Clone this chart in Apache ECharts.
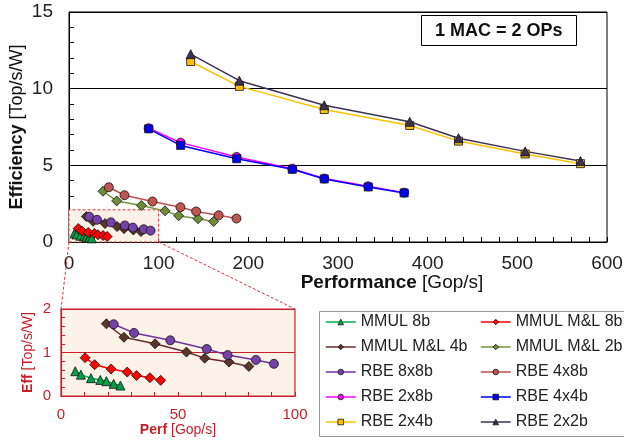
<!DOCTYPE html>
<html><head><meta charset="utf-8">
<script src="https://cdn.jsdelivr.net/npm/echarts@6/dist/echarts.min.js"></script>
<style>html,body{margin:0;padding:0;background:#fff}#c{width:624px;height:441px}</style>
</head><body><div id="c"></div>
<script>
// ---- data (Performance [Gop/s], Efficiency [Top/s/W]) ----
const mmul8bPerf   = [6.1, 8.5, 12.8, 16.8, 19.4, 22.5, 25.4];
const mmul8bEff    = [0.57, 0.49, 0.41, 0.37, 0.34, 0.28, 0.24];
const mmulML8bPerf = [10.3, 14.4, 21.4, 28.3, 32.3, 38.0, 42.6];
const mmulML8bEff  = [0.88, 0.72, 0.62, 0.55, 0.47, 0.42, 0.36];
const mmulML4bPerf = [19.4, 26.9, 40.2, 53.6, 61.4, 71.8, 80.3];
const mmulML4bEff  = [1.66, 1.35, 1.20, 1.01, 0.87, 0.78, 0.68];
const mmulML2bPerf = [37.9, 53.2, 80.7, 107.1, 122.3, 143.9, 161.3];
const mmulML2bEff  = [3.31, 2.68, 2.38, 2.03, 1.71, 1.52, 1.34];
const rbe8x8bPerf  = [22.5, 31.2, 46.7, 62.3, 71.2, 83.3, 91.0];
const rbe8x8bEff   = [1.65, 1.45, 1.28, 1.08, 0.94, 0.83, 0.74];
const rbe4x8bPerf  = [44.4, 61.9, 93.1, 124.3, 141.8, 166.9, 186.8];
const rbe4x8bEff   = [3.57, 3.05, 2.64, 2.27, 1.99, 1.74, 1.53];
const rbe2x8bPerf  = [88.8, 124.5, 187.0, 249.0, 284.7, 333.7, 373.8];
const rbe2x8bEff   = [7.42, 6.48, 5.55, 4.78, 4.14, 3.63, 3.22];
const rbe4x4bPerf  = [88.8, 124.5, 187.0, 249.0, 284.7, 333.7, 373.8];
const rbe4x4bEff   = [7.38, 6.30, 5.43, 4.74, 4.11, 3.59, 3.20];
const rbe2x4bPerf  = [135.7, 190.0, 284.7, 380.0, 434.4, 508.7, 570.4];
const rbe2x4bEff   = [11.77, 10.15, 8.64, 7.60, 6.58, 5.74, 5.11];
const rbe2x2bPerf  = [135.7, 190.0, 284.7, 380.0, 434.4, 508.7, 570.4];
const rbe2x2bEff   = [12.25, 10.52, 8.92, 7.84, 6.77, 5.91, 5.28];

// zoomed region shown in the inset
const zoomPerfRange = [0, 100];
const zoomEffRange  = [0, 2];
const zoomBoxTop    = 2.1;

// axis ticks
const mainXTicks = [0, 600, 100];
const mainYTicks = [0, 15, 5];
const insetXTicks = [0, 100, 50];
const insetYTicks = [0, 2, 1];

const annotation = '1 MAC = 2 OPs';
const legendLeft  = ['MMUL 8b', 'MMUL M&L 4b', 'RBE 8x8b', 'RBE 2x8b', 'RBE 2x4b'];
const legendRight = ['MMUL M&L 8b', 'MMUL M&L 2b', 'RBE 4x8b', 'RBE 4x4b', 'RBE 2x2b'];

const FONT = "'Liberation Sans', Arial, Helvetica, sans-serif";
const RED = '#c8202a';

function pairs(xs, ys) { return xs.map((x, i) => [x, ys[i]]); }

const defs = [
  {name: 'MMUL 8b',     x: mmul8bPerf,   y: mmul8bEff,   line: '#00b050', fill: '#00a048', sym: 'triangle', size: 9,  inset: true},
  {name: 'MMUL M&L 8b', x: mmulML8bPerf, y: mmulML8bEff, line: '#ff0000', fill: '#ff0000', sym: 'diamond',  size: 10, inset: true},
  {name: 'MMUL M&L 4b', x: mmulML4bPerf, y: mmulML4bEff, line: '#6a2c28', fill: '#5c3429', sym: 'diamond',  size: 10, inset: true},
  {name: 'MMUL M&L 2b', x: mmulML2bPerf, y: mmulML2bEff, line: '#76923c', fill: '#6f8c38', sym: 'diamond',  size: 10, inset: false},
  {name: 'RBE 8x8b',    x: rbe8x8bPerf,  y: rbe8x8bEff,  line: '#7030a0', fill: '#7442a8', sym: 'circle',   size: 9,  inset: true},
  {name: 'RBE 4x8b',    x: rbe4x8bPerf,  y: rbe4x8bEff,  line: '#c0504d', fill: '#bf5550', sym: 'circle',   size: 9,  inset: false},
  {name: 'RBE 2x8b',    x: rbe2x8bPerf,  y: rbe2x8bEff,  line: '#ff00ff', fill: '#ff00ff', sym: 'circle',   size: 9,  inset: false},
  {name: 'RBE 4x4b',    x: rbe4x4bPerf,  y: rbe4x4bEff,  line: '#0000ff', fill: '#0000ff', sym: 'rect',     size: 8,  inset: false},
  {name: 'RBE 2x4b',    x: rbe2x4bPerf,  y: rbe2x4bEff,  line: '#ffc000', fill: '#ffc000', sym: 'rect',     size: 8,  inset: false},
  {name: 'RBE 2x2b',    x: rbe2x2bPerf,  y: rbe2x2bEff,  line: '#403152', fill: '#3f3151', sym: 'triangle', size: 9,  inset: false}
];

function mkSeries(d, gi) {
  return {
    name: d.name, type: 'line', xAxisIndex: gi, yAxisIndex: gi,
    data: pairs(d.x, d.y), symbol: d.sym, symbolSize: d.size,
    showAllSymbol: true, animation: false,
    lineStyle: {color: d.line, width: 1.5},
    itemStyle: {color: d.fill, borderColor: '#111', borderWidth: 0.8},
    emphasis: {disabled: true}, z: 3
  };
}

const series = [];
defs.forEach(d => series.push(mkSeries(d, 0)));
// highlighted zoom region in main chart
series[0].markArea = {
  silent: true,
  itemStyle: {color: '#fcf1e6', borderColor: '#d23a3a', borderWidth: 1, borderType: [3, 2]},
  data: [[{coord: [zoomPerfRange[0], zoomEffRange[0]]}, {coord: [zoomPerfRange[1], zoomBoxTop]}]]
};
defs.filter(d => d.inset).forEach(d => series.push(mkSeries(d, 1)));

const legendCommon = {
  orient: 'vertical', itemWidth: 30, itemHeight: 7, itemGap: 9, padding: 0,
  textStyle: {fontFamily: FONT, fontSize: 16, color: '#222', lineHeight: 16},
  itemStyle: {borderWidth: 0.8, borderColor: '#111'},
  lineStyle: {width: 1.5},
  selectedMode: false
};

const chart = echarts.init(document.getElementById('c'), null, {renderer: 'canvas'});
chart.setOption({
  animation: false,
  backgroundColor: '#fff',
  textStyle: {fontFamily: FONT},
  title: {
    text: annotation, left: 421, top: 15, padding: [7, 14, 6, 14],
    borderColor: '#000', borderWidth: 1, backgroundColor: '#fff',
    textStyle: {fontFamily: FONT, fontSize: 18, fontWeight: 'bold', color: '#111'}
  },
  legend: [
    Object.assign({left: 325, top: 314, data: legendLeft}, legendCommon),
    Object.assign({left: 480, top: 314, data: legendRight}, legendCommon)
  ],
  grid: [
    {left: 69, top: 12, width: 538, height: 230, show: true, borderColor: '#000', borderWidth: 1,
     backgroundColor: 'transparent', containLabel: false, outerBoundsMode: 'none'},
    {left: 61, top: 309, width: 234, height: 87, show: true, borderColor: RED, borderWidth: 1.2,
     backgroundColor: '#fcf2e8', containLabel: false, outerBoundsMode: 'none'}
  ],
  xAxis: [
    {
      gridIndex: 0, type: 'value', min: mainXTicks[0], max: mainXTicks[1], interval: mainXTicks[2],
      axisLine: {lineStyle: {color: '#000', width: 1}},
      axisTick: {inside: true, length: 5, lineStyle: {color: '#000'}},
      minorTick: {show: true, splitNumber: 5, length: 5, lineStyle: {color: '#000'}},
      splitLine: {show: false},
      axisLabel: {fontSize: 19, color: '#222', margin: 12, fontFamily: FONT},
      name: '{b|Performance} [Gop/s]', nameLocation: 'middle', nameGap: 31, nameMoveOverlap: false,
      nameTextStyle: {fontSize: 19, color: '#111', fontFamily: FONT, padding: [0, 0, 0, 108],
        rich: {b: {fontSize: 19, fontWeight: 'bold', color: '#111', fontFamily: FONT}}}
    },
    {
      gridIndex: 1, type: 'value', min: insetXTicks[0], max: insetXTicks[1], interval: insetXTicks[2],
      axisLine: {lineStyle: {color: RED, width: 1.2}},
      axisTick: {inside: true, length: 4, lineStyle: {color: RED}},
      minorTick: {show: true, splitNumber: 5, length: 4, lineStyle: {color: RED}},
      splitLine: {show: false},
      axisLabel: {fontSize: 15, color: RED, margin: 11, fontFamily: FONT},
      name: '{b|Perf} [Gop/s]', nameLocation: 'middle', nameGap: 27, nameMoveOverlap: false,
      nameTextStyle: {fontSize: 14, color: RED, fontFamily: FONT,
        rich: {b: {fontSize: 14, fontWeight: 'bold', color: RED, fontFamily: FONT}}}
    }
  ],
  yAxis: [
    {
      gridIndex: 0, type: 'value', min: mainYTicks[0], max: mainYTicks[1], interval: mainYTicks[2],
      axisLine: {show: true, lineStyle: {color: '#000', width: 1}},
      axisTick: {show: true, inside: true, length: 5, lineStyle: {color: '#000'}},
      minorTick: {show: true, splitNumber: 5, length: 5, lineStyle: {color: '#000'}},
      splitLine: {show: true, lineStyle: {color: '#000', width: 1}},
      axisLabel: {fontSize: 19, color: '#222', margin: 16, fontFamily: FONT},
      name: '{b|Efficiency} [Top/s/W]', nameLocation: 'middle', nameGap: 43, nameRotate: 90, nameMoveOverlap: false,
      nameTextStyle: {fontSize: 18, color: '#111', fontFamily: FONT,
        rich: {b: {fontSize: 18, fontWeight: 'bold', color: '#111', fontFamily: FONT}}}
    },
    {
      gridIndex: 1, type: 'value', min: insetYTicks[0], max: insetYTicks[1], interval: insetYTicks[2],
      axisLine: {show: true, lineStyle: {color: RED, width: 1.2}},
      axisTick: {show: true, inside: true, length: 4, lineStyle: {color: RED}},
      minorTick: {show: true, splitNumber: 5, length: 4, lineStyle: {color: RED}},
      splitLine: {show: true, lineStyle: {color: RED, width: 1.2}},
      axisLabel: {fontSize: 15, color: RED, margin: 10, fontFamily: FONT},
      name: '{b|Eff} [Top/s/W]', nameLocation: 'middle', nameGap: 26, nameRotate: 90, nameMoveOverlap: false,
      nameTextStyle: {fontSize: 14, color: RED, fontFamily: FONT,
        rich: {b: {fontSize: 14, fontWeight: 'bold', color: RED, fontFamily: FONT}}}
    }
  ],
  series: series
});

// connector lines from zoom box to inset + legend frame
const a0 = chart.convertToPixel({gridIndex: 0}, [zoomPerfRange[0], zoomEffRange[0]]);
const a1 = chart.convertToPixel({gridIndex: 0}, [zoomPerfRange[1], zoomEffRange[0]]);
const b0 = chart.convertToPixel({gridIndex: 1}, [zoomPerfRange[0], zoomEffRange[1]]);
const b1 = chart.convertToPixel({gridIndex: 1}, [zoomPerfRange[1], zoomEffRange[1]]);
const dash = {stroke: '#d23a3a', lineWidth: 1, lineDash: [3, 2]};
chart.setOption({
  graphic: [
    {type: 'line', silent: true, z: 1, shape: {x1: a0[0], y1: a0[1], x2: b0[0], y2: b0[1]}, style: dash},
    {type: 'line', silent: true, z: 1, shape: {x1: a1[0], y1: a1[1], x2: b1[0], y2: b1[1]}, style: dash},
    {type: 'rect', silent: true, z: 0, left: 317, top: 309, shape: {width: 306, height: 125},
     style: {fill: 'none', stroke: '#999', lineWidth: 1}}
  ]
});
</script>
</body></html>
